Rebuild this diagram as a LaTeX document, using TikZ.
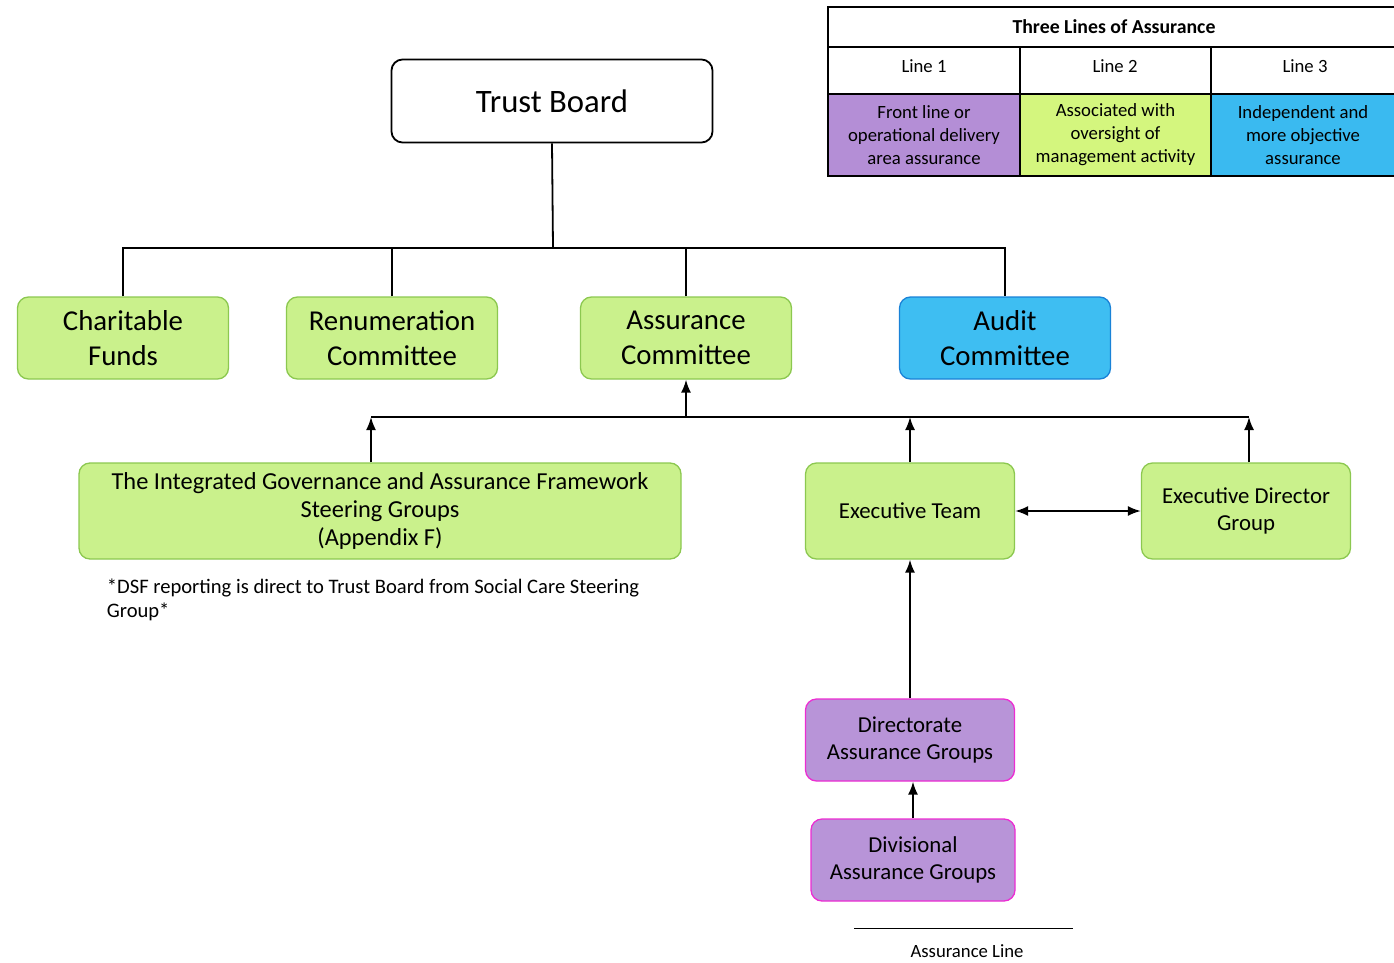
\documentclass[tikz,border=0pt]{standalone}
\usepackage{fontspec}
\setmainfont{Carlito}
\usetikzlibrary{positioning}
\usetikzlibrary{arrows.meta}

\definecolor{boxgreen}{RGB}{202,241,140}
\definecolor{edgegreen}{RGB}{140,200,80}
\definecolor{boxblue}{RGB}{62,190,242}
\definecolor{edgeblue}{RGB}{25,130,215}
\definecolor{boxpurple}{RGB}{184,148,216}
\definecolor{edgepink}{RGB}{236,45,210}
\definecolor{tabpurple}{RGB}{180,142,214}
\definecolor{tabgreen}{RGB}{212,246,126}
\definecolor{tabblue}{RGB}{58,186,240}

\tikzset{
    box/.style={rounded corners=11pt, line width=1.3pt, align=center, inner sep=0pt,
        minimum width=211pt, minimum height=82pt},
    greenbox/.style={box, fill=boxgreen, draw=edgegreen},
    bluebox/.style={box, fill=boxblue, draw=edgeblue},
    purplebox/.style={box, fill=boxpurple, draw=edgepink, minimum width=209pt},
    big/.style={font=\fontsize{28.8}{35.5}\selectfont},
    mid/.style={font=\fontsize{22.8}{27.5}\selectfont},
    tabtext/.style={align=center, inner sep=0pt, font=\fontsize{18.7}{23}\selectfont},
    cell/.style={inner sep=0pt, minimum height=82pt}
}

\begin{document}
\begin{tikzpicture}[x=1pt, y=-1pt, >={Latex[length=13pt,width=10pt]}, line width=1.8pt]
    \useasboundingbox (0,0) rectangle (1394,963);

    % top of the tree
    \node[box, draw=black, fill=white, line width=1.8pt, minimum width=321pt, minimum height=83pt,
        font=\fontsize{32.7}{38}\selectfont] (tb) at (552,101) {Trust Board};
    \node[greenbox, big] (cf) at (123,338) {Charitable\\Funds};
    \node[greenbox, big] (rc) at (392,338) {Renumeration\\Committee};
    \node[greenbox, big] (asc) at (686,338) {Assurance\\Committee};
    \node[bluebox, big] (audit) at (1005,338) {Audit\\Committee};

    \coordinate (bus) at (553,248);
    \draw (tb.south) -- (bus);
    \draw (cf.north) |- (bus) -| (audit.north);
    \draw (rc.north) -- (rc.north |- bus);
    \draw (asc.north) -- (asc.north |- bus);

    % reporting groups
    \node[greenbox, font=\fontsize{24.4}{28}\selectfont, minimum width=602pt, minimum height=96pt] (igaf)
        at (380,511) {The Integrated Governance and Assurance Framework\\Steering Groups\\(Appendix F)};
    \node[greenbox, mid, minimum width=209pt, minimum height=96pt] (et) at (910,511) {Executive Team};
    \node[greenbox, mid, minimum width=209pt, minimum height=96pt] (edg) at (1246,511)
        {Executive Director\\Group};
    \node[purplebox, mid] (dag) at (910,740) {Directorate\\Assurance Groups};
    \node[purplebox, mid, minimum width=204pt] (divg) at (913,860) {Divisional\\Assurance Groups};

    \coordinate (lbus) at (686,417);
    \coordinate (igtop) at ([xshift=-9pt]igaf.north);
    \coordinate (edgtop) at ([xshift=3pt]edg.north);
    \draw (igtop |- lbus) -- (edgtop |- lbus);
    \draw[->] (lbus) -- (asc.south);
    \draw[->] (igtop) -- (igtop |- lbus);
    \draw[->] (et.north) -- (et.north |- lbus);
    \draw[->] (edgtop) -- (edgtop |- lbus);
    \draw[<->] (et.east) -- (edg.west);
    \draw[->] (dag.north) -- (et.south);
    \draw[->] (divg.north) -- (dag.south -| divg.north);

    \node[anchor=north west, align=left, inner sep=0pt, font=\fontsize{20.6}{24}\selectfont] (note)
        at (106,578) {*DSF reporting is direct to Trust Board from Social Care Steering\\Group*};

    % legend
    \coordinate (leg1) at (854,928);
    \coordinate (leg2) at (1073,928);
    \draw[line width=1pt] (leg1) -- (leg2);
    \node[tabtext] (legtext) at (967,951) {Assurance Line};

    % three lines table
    \node[cell, fill=tabpurple, minimum width=192pt] (d1) at (924,135) {};
    \node[cell, fill=tabgreen, minimum width=191pt] (d2) at (1115.5,135) {};
    \node[cell, fill=tabblue, minimum width=184pt] (d3) at (1303,135) {};
    \node[tabtext, font=\bfseries\fontsize{19.8}{23}\selectfont] (ttl) at (1114,27) {Three Lines of Assurance};
    \node[tabtext] (l1) at (924,66) {Line 1};
    \node[tabtext] (l2) at (1115,66) {Line 2};
    \node[tabtext] (l3) at (1305,66) {Line 3};
    \node[tabtext] (t1) at (d1) {Front line or\\operational delivery\\area assurance};
    \node[tabtext] (t2) at (d2) {Associated with\\oversight of\\management activity};
    \node[tabtext] (t3) at (d3) {Independent and\\more objective\\assurance};
    \begin{scope}[line width=2.5pt]
        \draw (1396,7) -- (828,7) -- (828,176) -- (1396,176);
        \draw (828,47) -- (1396,47);
        \draw (828,94) -- (1396,94);
        \draw (1020,47) -- (1020,176);
        \draw (1211,47) -- (1211,176);
    \end{scope}
\end{tikzpicture}
\end{document}
